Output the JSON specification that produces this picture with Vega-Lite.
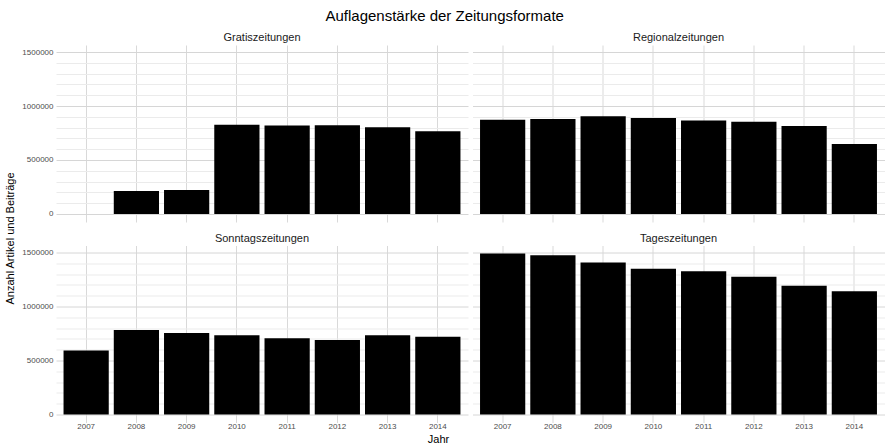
{
  "$schema": "https://vega.github.io/schema/vega-lite/v6.json",
  "background": "white",
  "padding": {"left": 4, "top": 8, "right": 3, "bottom": 2},
  "title": {"text": "Auflagenstärke der Zeitungsformate", "fontSize": 15, "font": "Liberation Sans", "fontWeight": "normal", "color": "#000000", "anchor": "middle", "offset": 8.5},
  "data": {"values": [
    {"Format": "Gratiszeitungen", "Jahr": 2008, "Auflage": 213000},
    {"Format": "Gratiszeitungen", "Jahr": 2009, "Auflage": 223000},
    {"Format": "Gratiszeitungen", "Jahr": 2010, "Auflage": 826000},
    {"Format": "Gratiszeitungen", "Jahr": 2011, "Auflage": 820000},
    {"Format": "Gratiszeitungen", "Jahr": 2012, "Auflage": 823000},
    {"Format": "Gratiszeitungen", "Jahr": 2013, "Auflage": 804000},
    {"Format": "Gratiszeitungen", "Jahr": 2014, "Auflage": 767000},
    {"Format": "Regionalzeitungen", "Jahr": 2007, "Auflage": 872000},
    {"Format": "Regionalzeitungen", "Jahr": 2008, "Auflage": 881000},
    {"Format": "Regionalzeitungen", "Jahr": 2009, "Auflage": 906000},
    {"Format": "Regionalzeitungen", "Jahr": 2010, "Auflage": 888000},
    {"Format": "Regionalzeitungen", "Jahr": 2011, "Auflage": 866000},
    {"Format": "Regionalzeitungen", "Jahr": 2012, "Auflage": 854000},
    {"Format": "Regionalzeitungen", "Jahr": 2013, "Auflage": 816000},
    {"Format": "Regionalzeitungen", "Jahr": 2014, "Auflage": 649000},
    {"Format": "Sonntagszeitungen", "Jahr": 2007, "Auflage": 592000},
    {"Format": "Sonntagszeitungen", "Jahr": 2008, "Auflage": 782000},
    {"Format": "Sonntagszeitungen", "Jahr": 2009, "Auflage": 755000},
    {"Format": "Sonntagszeitungen", "Jahr": 2010, "Auflage": 733000},
    {"Format": "Sonntagszeitungen", "Jahr": 2011, "Auflage": 706000},
    {"Format": "Sonntagszeitungen", "Jahr": 2012, "Auflage": 690000},
    {"Format": "Sonntagszeitungen", "Jahr": 2013, "Auflage": 733000},
    {"Format": "Sonntagszeitungen", "Jahr": 2014, "Auflage": 721000},
    {"Format": "Tageszeitungen", "Jahr": 2007, "Auflage": 1491000},
    {"Format": "Tageszeitungen", "Jahr": 2008, "Auflage": 1475000},
    {"Format": "Tageszeitungen", "Jahr": 2009, "Auflage": 1408000},
    {"Format": "Tageszeitungen", "Jahr": 2010, "Auflage": 1350000},
    {"Format": "Tageszeitungen", "Jahr": 2011, "Auflage": 1328000},
    {"Format": "Tageszeitungen", "Jahr": 2012, "Auflage": 1276000},
    {"Format": "Tageszeitungen", "Jahr": 2013, "Auflage": 1193000},
    {"Format": "Tageszeitungen", "Jahr": 2014, "Auflage": 1141000}
  ]},
  "config": {
    "font": "Liberation Sans",
    "view": {"stroke": null},
    "title": {"fontSize": 11, "fontWeight": "normal", "color": "#1a1a1a", "anchor": "middle", "offset": 2},
    "axis": {
      "ticks": false,
      "domain": false,
      "labelFontSize": 8,
      "labelColor": "#4d4d4d",
      "titleFontSize": 11,
      "titleFontWeight": "normal",
      "titleColor": "#000000",
      "gridColor": "#d9d9d9"
    }
  },
  "bounds": "flush",
  "columns": 2,
  "spacing": {"row": 23.5, "column": 4.5},
  "concat": [
      {"title": "Gratiszeitungen", "width": 412, "height": 177,
       "transform": [{"filter": "datum.Format === 'Gratiszeitungen'"}],
       "mark": {"type": "bar", "color": "#000000"},
       "encoding": {
         "x": {"field": "Jahr", "type": "ordinal", "scale": {"domain": [2007, 2008, 2009, 2010, 2011, 2012, 2013, 2014], "paddingInner": 0.1, "paddingOuter": 0.15},
               "axis": {"labels": false, "title": null, "grid": true, "bandPosition": 0.5}},
         "y": {"field": "Auflage", "type": "quantitative", "scale": {"domain": [-74600, 1565600], "nice": false, "zero": false},
               "axis": {"values": [0, 100000, 200000, 300000, 400000, 500000, 600000, 700000, 800000, 900000, 1000000, 1100000, 1200000, 1300000, 1400000, 1500000],
                        "format": "d", "labelExpr": "datum.value % 500000 === 0 ? datum.label : ''",
                        "gridColor": {"condition": {"test": "datum.value % 500000 === 0", "value": "#d6d6d6"}, "value": "#ebebeb"},
                        "labelPadding": 3, "title": "Anzahl Artikel und Beiträge", "titleY": 193, "titlePadding": 6}}
       }},
      {"title": "Regionalzeitungen", "width": 412, "height": 177,
       "transform": [{"filter": "datum.Format === 'Regionalzeitungen'"}],
       "mark": {"type": "bar", "color": "#000000"},
       "encoding": {
         "x": {"field": "Jahr", "type": "ordinal", "scale": {"domain": [2007, 2008, 2009, 2010, 2011, 2012, 2013, 2014], "paddingInner": 0.1, "paddingOuter": 0.15},
               "axis": {"labels": false, "title": null, "grid": true, "bandPosition": 0.5}},
         "y": {"field": "Auflage", "type": "quantitative", "scale": {"domain": [-74600, 1565600], "nice": false, "zero": false},
               "axis": {"values": [0, 100000, 200000, 300000, 400000, 500000, 600000, 700000, 800000, 900000, 1000000, 1100000, 1200000, 1300000, 1400000, 1500000],
                        "labels": false, "title": null,
                        "gridColor": {"condition": {"test": "datum.value % 500000 === 0", "value": "#d6d6d6"}, "value": "#ebebeb"}}}
       }},
      {"title": "Sonntagszeitungen", "width": 412, "height": 177,
       "transform": [{"filter": "datum.Format === 'Sonntagszeitungen'"}],
       "mark": {"type": "bar", "color": "#000000"},
       "encoding": {
         "x": {"field": "Jahr", "type": "ordinal", "scale": {"domain": [2007, 2008, 2009, 2010, 2011, 2012, 2013, 2014], "paddingInner": 0.1, "paddingOuter": 0.15},
               "axis": {"labelAngle": 0, "labelPadding": 0, "title": "Jahr", "titleX": 382, "titlePadding": 3, "grid": true, "bandPosition": 0.5}},
         "y": {"field": "Auflage", "type": "quantitative", "scale": {"domain": [-74600, 1565600], "nice": false, "zero": false},
               "axis": {"values": [0, 100000, 200000, 300000, 400000, 500000, 600000, 700000, 800000, 900000, 1000000, 1100000, 1200000, 1300000, 1400000, 1500000],
                        "format": "d", "labelExpr": "datum.value % 500000 === 0 ? datum.label : ''",
                        "gridColor": {"condition": {"test": "datum.value % 500000 === 0", "value": "#d6d6d6"}, "value": "#ebebeb"},
                        "labelPadding": 3, "title": null}}
       }},
      {"title": "Tageszeitungen", "width": 412, "height": 177,
       "transform": [{"filter": "datum.Format === 'Tageszeitungen'"}],
       "mark": {"type": "bar", "color": "#000000"},
       "encoding": {
         "x": {"field": "Jahr", "type": "ordinal", "scale": {"domain": [2007, 2008, 2009, 2010, 2011, 2012, 2013, 2014], "paddingInner": 0.1, "paddingOuter": 0.15},
               "axis": {"labelAngle": 0, "labelPadding": 0, "title": null, "grid": true, "bandPosition": 0.5}},
         "y": {"field": "Auflage", "type": "quantitative", "scale": {"domain": [-74600, 1565600], "nice": false, "zero": false},
               "axis": {"values": [0, 100000, 200000, 300000, 400000, 500000, 600000, 700000, 800000, 900000, 1000000, 1100000, 1200000, 1300000, 1400000, 1500000],
                        "labels": false, "title": null,
                        "gridColor": {"condition": {"test": "datum.value % 500000 === 0", "value": "#d6d6d6"}, "value": "#ebebeb"}}}
       }}
  ]
}
